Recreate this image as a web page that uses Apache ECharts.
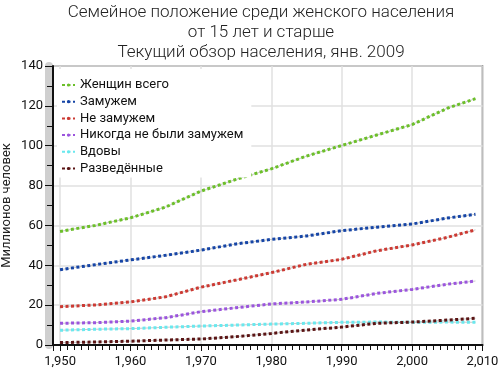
<!DOCTYPE html>
<html><head><meta charset="utf-8">
<script src="https://cdn.jsdelivr.net/npm/echarts@6/dist/echarts.min.js"></script>
<style>html,body{margin:0;padding:0;background:#fff}#c{width:498px;height:370px}</style>
</head><body><div id="c"></div>
<script>
const years = [1950,1955,1960,1965,1970,1975,1980,1985,1990,1995,2000,2005,2009];
const totalWomen = [57.0,60.0,63.8,69.2,77.2,83.1,88.4,94.8,100.1,105.4,110.6,118.8,123.6];
const married    = [37.8,40.3,42.7,45.0,47.6,50.7,53.0,54.7,57.4,59.1,60.7,63.7,65.6];
const unmarried  = [19.2,20.1,21.6,24.2,29.0,32.6,36.3,40.5,43.0,47.3,50.2,54.0,57.8];
const neverMarried = [10.9,11.2,12.0,13.7,16.7,18.7,20.6,21.6,22.9,25.9,27.9,30.5,32.1];
const widowed    = [7.4,7.9,8.2,8.9,9.5,10.0,10.5,10.9,11.4,11.5,11.4,11.5,11.4];
const divorced   = [1.2,1.5,1.9,2.5,3.0,4.2,5.8,7.5,9.0,10.9,11.5,12.5,13.4];
const seriesNames = ['Женщин всего','Замужем','Не замужем','Никогда не были замужем','Вдовы','Разведённые'];
const seriesValues = [totalWomen, married, unmarried, neverMarried, widowed, divorced];
const colors = ['#6cbf2a','#1645a6','#cc3a33','#9b55dd','#6ae8ee','#5a1414'];
const titleLines = ['Семейное положение среди женского населения','от 15 лет и старше','Текущий обзор населения, янв. 2009'];
const yAxisName = 'Миллионов человек';

const chart = echarts.init(document.getElementById('c'), null, {renderer:'canvas'});
const series = [];
seriesValues.forEach((vals, i) => {
  const data = years.map((y, j) => [y, vals[j]]);
  series.push({
    name: '_u' + i, type: 'line', data, showSymbol: false, symbol: 'none', silent: true,
    lineStyle: {color: '#888', width: 1, opacity: 0.45}, z: 1, animation: false
  });
  series.push({
    name: seriesNames[i], type: 'line', data, showSymbol: false, symbol: 'none',
    color: colors[i],
    lineStyle: {color: colors[i], width: 3, type: [3, 2.5], cap: 'butt'}, z: 3, animation: false
  });
});
chart.setOption({
  animation: false,
  textStyle: {fontFamily: 'Roboto'},
  title: {
    text: titleLines.join('\n'), left: 261, top: 3, padding: 0, textAlign: 'center',
    textStyle: {fontFamily: 'Roboto', fontWeight: 300, fontSize: 17, lineHeight: 20, color: '#222'}
  },
  legend: {
    data: seriesNames, orient: 'vertical', left: 57, top: 69,
    padding: [9, 8, 2, 4], itemGap: 2.7, itemWidth: 13, itemHeight: 4,
    backgroundColor: '#fff', borderWidth: 0, z: 4,
    textStyle: {fontFamily: 'Roboto', fontSize: 13, lineHeight: 14, color: '#111'}
  },
  grid: {left: 53, right: 15.5, top: 66, bottom: 25, outerBoundsMode: 'none', containLabel: false,
         show: true, borderColor: '#555', borderWidth: 1.5, backgroundColor: '#fff'},
  xAxis: [
    {type: 'value', min: 1949, max: 2010, splitNumber: 6, z: 6,
     axisLine: {lineStyle: {color: '#111', width: 2}},
     axisTick: {show: true, inside: false, length: 6, lineStyle: {color: '#111', width: 1}},
     minorTick: {show: true, splitNumber: 10, length: 5, lineStyle: {color: '#111', width: 1}},
     splitLine: {show: false},
     axisLabel: {showMinLabel: false, margin: 10, fontFamily: 'Roboto', fontSize: 13, color: '#111'}},
    {type: 'value', min: 1949, max: 2010, splitNumber: 6, position: 'bottom', z: 0,
     axisLine: {show: false}, axisTick: {show: false}, axisLabel: {show: false},
     splitLine: {show: true, lineStyle: {color: '#e0e0e0', width: 1.5}}}
  ],
  yAxis: [
    {type: 'value', min: 0, max: 140, interval: 20, z: 6,
     name: yAxisName, nameLocation: 'middle', nameGap: 40, nameMoveOverlap: false,
     nameTextStyle: {fontFamily: 'Roboto', fontSize: 13, color: '#222'},
     axisLine: {show: true, lineStyle: {color: '#111', width: 2}},
     axisTick: {show: true, inside: false, length: 8, lineStyle: {color: '#111', width: 1}},
     minorTick: {show: true, splitNumber: 2, length: 6, lineStyle: {color: '#111', width: 1}},
     splitLine: {show: false},
     axisLabel: {margin: 10, fontFamily: 'Roboto', fontSize: 13, color: '#111'}},
    {type: 'value', min: 0, max: 140, interval: 20, position: 'left', offset: 4.5, z: 0,
     axisLine: {show: true, onZero: false, lineStyle: {color: '#cfcfcf', width: 8}},
     axisTick: {show: false}, axisLabel: {show: false},
     splitLine: {show: true, lineStyle: {color: '#e0e0e0', width: 1.5}}}
  ],
  series
});
</script></body></html>
